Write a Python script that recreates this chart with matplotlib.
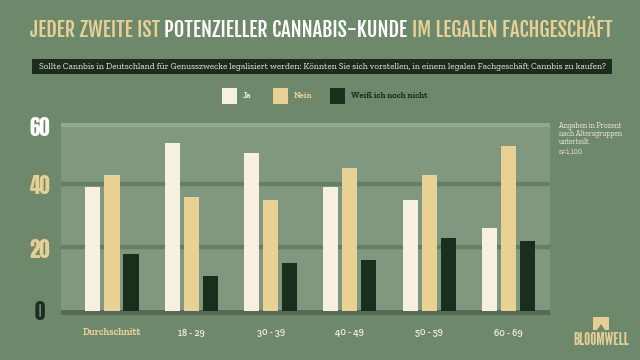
import matplotlib
matplotlib.use("Agg")
import matplotlib.pyplot as plt
from matplotlib.patches import Rectangle, Polygon
import numpy as np

categories = ["Durchschnitt", "18 - 29", "30 - 39", "40 - 49", "50 - 59", "60 - 69"]
series_names = ["Ja", "Nein", "Weiß ich noch nicht"]
ja = [39, 53, 50, 39, 35, 26]
nein = [43, 36, 35, 45, 43, 52]
weiss = [18, 11, 15, 16, 23, 22]
yticks = [0, 20, 40, 60]

BG = "#6e886c"
PANEL = "#809880"
GRID = "#667e64"
BASE = "#566b55"
TOPSTRIP = "#93a891"
C_JA = "#f7f0e1"
C_NEIN = "#e8d192"
C_WEISS = "#1a2e1e"
YEL = "#e6d095"
CREAM = "#f3ecdc"

COND = ["League Gothic", "Oswald", "DejaVu Sans"]
TICKF = ["Anton", "League Gothic", "DejaVu Sans"]
TITLE = ["Fjalla One", "Oswald", "DejaVu Sans"]
SERIF = ["Zilla Slab", "Noto Serif", "DejaVu Serif"]

W, H = 640, 360
fig = plt.figure(figsize=(6.4, 3.6), dpi=100, facecolor=BG)
fig.canvas.draw()
R = fig.canvas.get_renderer()

def fx(px):
    return px / W
def fy(py):
    return 1 - py / H

def fit(t, width_px):
    w = t.get_window_extent(R).width
    if w > 0:
        t.set_fontsize(t.get_fontsize() * width_px / w)
    return t.get_fontsize()

# axes: panel from x 61..550, y 123..315
ax = fig.add_axes([fx(61), fy(315), fx(550) - fx(61), fy(123) - fy(315)])
ax.set_facecolor(PANEL)
x = np.arange(len(categories))
bw = 0.19
off = 0.24
ymin, ymax = -1.4, 59.4
ax.set_ylim(ymin, ymax)
ax.set_xlim(-0.643, 5.523)
for s in ax.spines.values():
    s.set_visible(False)
ax.set_xticks([])
ax.set_yticks([])

for g in [20, 40]:
    ax.axhline(g, color=GRID, lw=3.2, zorder=1)
ax.axhspan(ymin, 0.2, color=BASE, zorder=1, lw=0)
ax.axhspan(58.2, ymax, color=TOPSTRIP, zorder=1, lw=0)

ax.bar(x - off, ja, bw, color=C_JA, zorder=2)
ax.bar(x, nein, bw, color=C_NEIN, zorder=2)
ax.bar(x + off, weiss, bw, color=C_WEISS, zorder=2)

# y tick labels
tick_colors = {0: C_WEISS, 20: YEL, 40: YEL, 60: "#ffffff"}
tick_pos = {0: -0.6, 20: 19.3, 40: 39.6, 60: 57.8}
for t in yticks:
    ax.text(-0.91, tick_pos[t], str(t), ha="center", va="center",
            fontsize=15, family=TICKF, color=tick_colors[t], clip_on=False)

# x labels
for i, c in enumerate(categories):
    ax.text(i, -6.9, c, ha="center", va="center", fontsize=7.0, family=SERIF,
            fontweight="bold" if i == 0 else "semibold",
            color=YEL if i == 0 else CREAM, clip_on=False)

# title in three colours
tkw = dict(fontsize=20, family=TITLE, va="baseline")
base_y = fy(37)
t1 = fig.text(fx(30), base_y, "JEDER ZWEITE IST ", color=YEL, **tkw)
t2 = fig.text(0, base_y, "POTENZIELLER CANNABIS-KUNDE ", color="#ffffff", **tkw)
t3 = fig.text(0, base_y, "IM LEGALEN FACHGESCHÄFT", color=YEL, **tkw)
inv = fig.transFigure.inverted()
def layout_title():
    e1 = t1.get_window_extent(R)
    t2.set_x(inv.transform((e1.x1, 0))[0])
    e2 = t2.get_window_extent(R)
    t3.set_x(inv.transform((e2.x1, 0))[0])
    e3 = t3.get_window_extent(R)
    return e3.x1 - e1.x0
total = layout_title()
scale = 582 / total
for t in (t1, t2, t3):
    t.set_fontsize(t.get_fontsize() * scale)
layout_title()

# subtitle box
fig.patches.append(Rectangle((fx(32), fy(74)), fx(612) - fx(32), fy(59) - fy(74),
                             transform=fig.transFigure, facecolor="#1c2d1f", edgecolor="none"))
st = fig.text(fx(322), fy(66.8),
              "Sollte Cannbis in Deutschland für Genusszwecke legalisiert werden: Könnten Sie sich vorstellen, in einem legalen Fachgeschäft Cannbis zu kaufen?",
              ha="center", va="center", fontsize=6.2, family=SERIF, color=CREAM)
fit(st, 574)

# legend
leg_x = [222, 273, 330]
leg_colors = [C_JA, C_NEIN, C_WEISS]
leg_text_colors = [CREAM, YEL, C_WEISS]
leg_texts = []
for lx, lc, tc, name in zip(leg_x, leg_colors, leg_text_colors, series_names):
    fig.patches.append(Rectangle((fx(lx), fy(104)), fx(15), 16 / H, transform=fig.transFigure,
                                 facecolor=lc, edgecolor="none"))
    lt = fig.text(fx(lx + 21), fy(96.5), name, ha="left", va="center", fontsize=6.2,
                  fontweight="bold", family=SERIF, color=tc)
    leg_texts.append(lt)
fs = fit(leg_texts[2], 77)
for lt in leg_texts[:2]:
    lt.set_fontsize(fs)

# side note
sn = fig.text(fx(559), fy(122), "Angaben in Prozent\nnach Altersgruppen\nunterteilt", ha="left", va="top",
              fontsize=5.0, family=SERIF, color=CREAM, linespacing=1.0)
fit(sn, 64)
fig.text(fx(559), fy(152), "n=1.100", ha="left", va="center",
         fontsize=sn.get_fontsize(), family=SERIF, color=CREAM)

# logo
fig.patches.append(Rectangle((fx(593), fy(330)), fx(16), 13 / H, transform=fig.transFigure,
                             facecolor=YEL, edgecolor="none"))
fig.patches.append(Polygon([(fx(597), fy(330)), (fx(601), fy(324)), (fx(605), fy(330))],
                           closed=True, transform=fig.transFigure, facecolor=BG, edgecolor="none"))
lg = fig.text(fx(601), fy(340), "BLOOMWELL", ha="center", va="center", fontsize=14,
              family=COND, color=YEL)
fit(lg, 56)

fig.savefig("out.png", dpi=100, facecolor=BG)
